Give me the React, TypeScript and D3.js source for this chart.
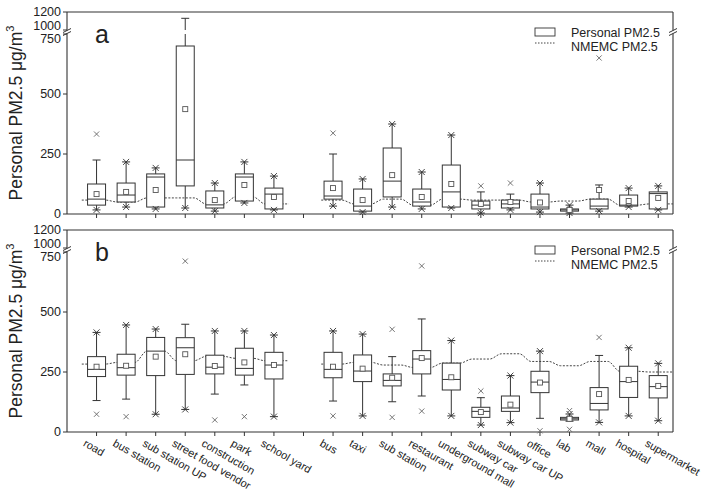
import React from "react";
import * as d3 from "d3";

const categories = ["road","bus station","sub station UP","street food vendor","construction","park","school yard","bus","taxi","sub station","restaurant","underground mall","subway car","subway car UP","office","lab","mall","hospital","supermarket"];
const positions = [1,2,3,4,5,6,7,9,10,11,12,13,14,15,16,17,18,19,20];
const xTicks = [1,2,3,4,5,6,7,8,9,10,11,12,13,14,15,16,17,18,19,20];
const yTicks = [0,250,500,750,1000,1200];

// Panel a
const q1A = [37,50,29,117,25,54,21,62,12,71,33,29,21,25,21,12,21,33,21];
const medA = [62,79,154,225,38,154,83,75,33,137,50,92,37,42,29,17,33,37,85];
const q3A = [125,129,167,700,96,167,108,137,104,275,104,204,54,58,83,21,62,79,92];
const meanA = [83,92,100,437,58,121,71,108,58,162,71,125,42,50,48,17,100,54,67];
const loA = [17,29,21,25,12,46,17,33,8,29,21,25,4,17,8,4,12,29,17];
const hiA = [225,217,192,1130,129,217,158,250,146,375,175,329,92,83,129,37,121,108,117];
const hiStarA = [false,true,true,false,true,true,true,false,true,true,true,true,false,false,true,true,false,true,true];
const loStarA = [true,true,true,true,true,true,true,true,true,true,true,true,true,true,true,true,true,true,true];
const outliersA = [[333],[],[],[],[],[],[],[337],[],[],[],[],[117],[129],[],[],[650],[],[]];
const nmemcA = [58,50,67,67,42,71,42,58,42,62,37,62,58,58,50,54,62,37,42];

// Panel b
const q1B = [231,237,235,240,242,237,221,226,210,192,242,175,61,86,164,50,92,144,142];
const medB = [261,268,337,351,270,265,279,261,254,215,304,219,86,100,208,55,119,210,189];
const q3B = [314,324,394,393,320,349,332,332,321,242,339,287,103,150,253,61,185,274,235];
const meanB = [272,276,314,324,275,290,279,272,264,226,308,228,83,114,206,55,158,217,192];
const loB = [131,137,74,94,158,196,64,129,67,126,150,67,29,39,57,45,40,67,47];
const hiB = [415,446,429,449,421,421,404,421,408,314,471,381,143,235,337,75,319,351,286];
const hiStarB = [true,true,true,false,true,true,true,true,true,false,false,true,false,true,true,true,false,true,true];
const loStarB = [false,false,true,true,false,false,true,false,true,false,false,true,true,true,false,false,true,true,true];
const outliersB = [[74],[64],[],[712],[50],[64],[],[67],[],[428,61],[692,87],[],[171],[],[5],[89,11],[394],[],[]];
const nmemcB = [283,290,337,297,315,307,297,283,290,279,269,287,304,326,294,276,294,253,250];

const LEFT = 67, RIGHT = 673;
const FONT = "'Liberation Sans', Arial, sans-serif";
const INK = "#333";

type PanelData = {
  q1: number[]; med: number[]; q3: number[]; mean: number[]; lo: number[]; hi: number[];
  hiStar: boolean[]; loStar: boolean[]; outliers: number[][]; nmemc: number[];
};

function Cross({ x, y, r, color }: { x: number; y: number; r: number; color: string }) {
  return (
    <g stroke={color} strokeWidth={0.9}>
      <line x1={x - r} y1={y - r} x2={x + r} y2={y + r} />
      <line x1={x - r} y1={y + r} x2={x + r} y2={y - r} />
    </g>
  );
}

function Panel({ d, bottom, letter, showLabels }: { d: PanelData; bottom: number; letter: string; showLabels: boolean }) {
  const top = bottom - 202;
  const x = d3.scaleLinear().domain([0, 20.5]).range([LEFT, RIGHT]);
  const lower = d3.scaleLinear().domain([0, 750]).range([bottom, bottom - 180]);
  const upper = d3.scaleLinear().domain([1000, 1200]).range([bottom - 184, top]);
  const y = (v: number) => (v <= 750 ? lower(v) : v >= 1000 ? upper(v) : (lower(750) + upper(1000)) / 2);
  const yBreak = (lower(750) + upper(1000)) / 2;
  const bw = 18;
  const cap = 4;

  const groups = [[0, 7], [7, 19]];
  const lineGen = d3.line<[number, number]>().x(p => p[0]).y(p => p[1]).curve(d3.curveMonotoneX);
  const nmemcPaths = groups.map(([s, e], gi) => {
    const pts: [number, number][] = [];
    for (let i = s; i < e; i++) {
      const p = positions[i];
      const a = i === s ? (gi === 0 ? p - 0.5 : p - 0.4) : p - 0.3;
      const b = i === e - 1 ? p + 0.5 : p + 0.3;
      pts.push([x(a), y(d.nmemc[i])]);
      pts.push([x(b), y(d.nmemc[i])]);
    }
    return lineGen(pts);
  });

  const brk = (bx: number) => (
    <g>
      <rect x={bx - 3} y={yBreak - 1.6} width={6} height={3.2} fill="white" />
      <line x1={bx - 4} y1={yBreak - 1.5 + 2} x2={bx + 4} y2={yBreak - 1.5 - 2} stroke={INK} strokeWidth={1} />
      <line x1={bx - 4} y1={yBreak + 1.5 + 2} x2={bx + 4} y2={yBreak + 1.5 - 2} stroke={INK} strokeWidth={1} />
    </g>
  );

  return (
    <g>
      <g stroke={INK} strokeWidth={1.1} fill="none">
        <line x1={LEFT} y1={bottom} x2={RIGHT} y2={bottom} />
        <line x1={LEFT} y1={top} x2={RIGHT} y2={top} />
        <line x1={LEFT} y1={top} x2={LEFT} y2={bottom} />
        <line x1={RIGHT} y1={top} x2={RIGHT} y2={bottom} />
      </g>
      {brk(LEFT)}
      {brk(RIGHT)}
      {yTicks.map(t => {
        const ty = y(t);
        const off = t === 750 ? 5 : t === 1000 ? -4 : 0;
        return (
          <g key={t}>
            <line x1={LEFT - 4} x2={LEFT} y1={ty} y2={ty} stroke={INK} strokeWidth={1} />
            <text x={61} y={ty + off} textAnchor="end" dominantBaseline="central" fontSize={12.5} fontFamily={FONT} fill="#222">{t}</text>
          </g>
        );
      })}
      {xTicks.map(t => (
        <line key={t} x1={x(t)} x2={x(t)} y1={bottom} y2={bottom + 4} stroke={INK} strokeWidth={1} />
      ))}
      <text transform={`translate(22, ${bottom - 101}) rotate(-90)`} textAnchor="middle" fontSize={17.5} fontFamily={FONT} fill="#222">
        Personal PM2.5 μg/m<tspan fontSize={11} dy={-8}>3</tspan>
      </text>
      <text x={95} y={top + 31} fontSize={25} fontFamily={FONT} fill="#222">{letter}</text>
      <rect x={535} y={top + 16} width={20} height={8} fill="white" stroke={INK} strokeWidth={0.9} />
      <line x1={535} x2={555} y1={top + 31} y2={top + 31} stroke="#444" strokeWidth={1} strokeDasharray="1.5 1.5" />
      <text x={571} y={top + 21} dominantBaseline="central" fontSize={12.5} fontFamily={FONT} fill="#222">Personal PM2.5</text>
      <text x={571} y={top + 35} dominantBaseline="central" fontSize={12.5} fontFamily={FONT} fill="#222">NMEMC PM2.5</text>
      {nmemcPaths.map((p, i) => (
        <path key={i} d={p || ""} fill="none" stroke="#444" strokeWidth={1} strokeDasharray="2 1.5" />
      ))}
      {positions.map((p, i) => {
        const cx = x(p);
        const hi = d.hi[i];
        return (
          <g key={i}>
            <g stroke={INK} strokeWidth={1} fill="none">
              {hi > 750 ? (
                <>
                  <line x1={cx} x2={cx} y1={y(d.q3[i])} y2={lower(750)} />
                  <line x1={cx} x2={cx} y1={upper(1000)} y2={y(hi)} />
                </>
              ) : (
                <line x1={cx} x2={cx} y1={y(d.q3[i])} y2={y(hi)} />
              )}
              <line x1={cx} x2={cx} y1={y(d.q1[i])} y2={y(d.lo[i])} />
              <line x1={cx - cap} x2={cx + cap} y1={y(hi)} y2={y(hi)} />
              <line x1={cx - cap} x2={cx + cap} y1={y(d.lo[i])} y2={y(d.lo[i])} />
              <rect x={cx - bw / 2} y={y(d.q3[i])} width={bw} height={Math.max(1, y(d.q1[i]) - y(d.q3[i]))} fill="white" />
              <line x1={cx - bw / 2} x2={cx + bw / 2} y1={y(d.med[i])} y2={y(d.med[i])} />
            </g>
            {d.hiStar[i] && <Cross x={cx} y={y(hi)} r={3} color={INK} />}
            {d.loStar[i] && <Cross x={cx} y={y(d.lo[i])} r={3} color={INK} />}
            {d.outliers[i].map((o, k) => <Cross key={k} x={cx} y={y(o)} r={2.6} color="#666" />)}
            <rect x={cx - 2.5} y={y(d.mean[i]) - 2.5} width={5} height={5} fill="white" stroke="#555" strokeWidth={0.9} />
          </g>
        );
      })}
      {showLabels && positions.map((p, i) => (
        <text key={i} transform={`translate(${x(p) - 12}, ${bottom + 10}) rotate(30)`} fontSize={11} fontFamily={FONT} fill="#222" dominantBaseline="central">
          {categories[i]}
        </text>
      ))}
    </g>
  );
}

export default function App() {
  const A: PanelData = { q1: q1A, med: medA, q3: q3A, mean: meanA, lo: loA, hi: hiA, hiStar: hiStarA, loStar: loStarA, outliers: outliersA, nmemc: nmemcA };
  const B: PanelData = { q1: q1B, med: medB, q3: q3B, mean: meanB, lo: loB, hi: hiB, hiStar: hiStarB, loStar: loStarB, outliers: outliersB, nmemc: nmemcB };
  return (
    <svg width={705} height={492} style={{ position: "absolute", left: 0, top: 0, background: "white" }}>
      <rect width={705} height={492} fill="white" />
      <Panel d={A} bottom={214} letter="a" showLabels={false} />
      <Panel d={B} bottom={432} letter="b" showLabels={true} />
    </svg>
  );
}
